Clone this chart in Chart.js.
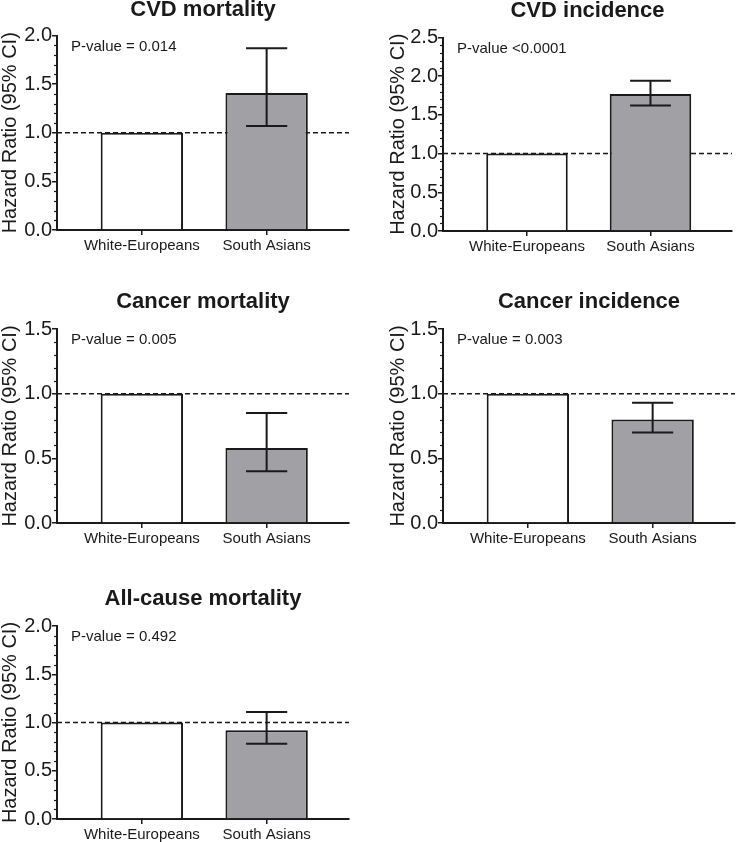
<!DOCTYPE html>
<html><head><meta charset="utf-8">
<script src="https://cdn.jsdelivr.net/npm/chart.js@4.4.1/dist/chart.umd.min.js"></script>
<style>
html,body{margin:0;padding:0;background:#fff;}
#wrap{position:relative;width:736px;height:842px;overflow:hidden;}
canvas{position:absolute;}
</style></head><body>
<div id="wrap">
<canvas id="c0"></canvas><canvas id="c1"></canvas><canvas id="c2"></canvas><canvas id="c3"></canvas><canvas id="c4"></canvas>
</div>
<script>
// ---- data ----
const categories = ['White-Europeans', 'South Asians'];
const panelTitles = ['CVD mortality', 'CVD incidence', 'Cancer mortality', 'Cancer incidence', 'All-cause mortality'];
const pValueLabels = ['P-value = 0.014', 'P-value <0.0001', 'P-value = 0.005', 'P-value = 0.003', 'P-value = 0.492'];
const hazardRatios = [[1.00, 1.41], [1.00, 1.77], [1.00, 0.58], [1.00, 0.80], [1.00, 0.92]];
const ciLower = [[null, 1.07], [null, 1.62], [null, 0.40], [null, 0.70], [null, 0.78]];
const ciUpper = [[null, 1.87], [null, 1.94], [null, 0.85], [null, 0.93], [null, 1.11]];
const yAxisMax = [2.0, 2.5, 1.5, 1.5, 2.0];
const yTickStep = 0.5;
const yMinorStep = 0.1;
const referenceHR = 1.0;
const yAxisTitle = 'Hazard Ratio (95% CI)';

// ---- layout / style ----
const FONT = '"Liberation Sans", Arial, Helvetica, sans-serif';
const INK = '#1a1a1a';
const barColors = ['#ffffff', '#a1a0a5'];
const panels = [
  {canvas: [0, 0, 360, 265],   area: [57, 35.5, 349, 230], titleY: 10,  yTitleX: 10},
  {canvas: [376, 0, 360, 265], area: [443, 37.5, 732, 231], titleY: 11, yTitleX: 22},
  {canvas: [0, 280, 360, 272], area: [57, 329, 349, 523],  titleY: 302, yTitleX: 10},
  {canvas: [376, 280, 360, 272], area: [443, 329, 735, 523], titleY: 302, yTitleX: 22},
  {canvas: [0, 560, 360, 282], area: [57, 626, 349, 819],  titleY: 599, yTitleX: 10}
];

const refLinePlugin = {
  id: 'refLine',
  beforeDatasetsDraw(chart) {
    const {ctx, chartArea: a, scales: {y}} = chart;
    const py = y.getPixelForValue(referenceHR);
    ctx.save();
    ctx.strokeStyle = INK; ctx.lineWidth = 1.5; ctx.setLineDash([5, 3]);
    ctx.beginPath(); ctx.moveTo(a.left, py); ctx.lineTo(a.right, py); ctx.stroke();
    ctx.restore();
  }
};

const minorTickPlugin = {
  id: 'minorTicks',
  afterDraw(chart) {
    const {ctx, scales: {y}} = chart;
    const n = Math.round((y.max - y.min) / yMinorStep);
    const per = Math.round(yTickStep / yMinorStep);
    ctx.save();
    ctx.strokeStyle = INK; ctx.lineWidth = 1.2;
    for (let i = 1; i < n; i++) {
      if (i % per === 0) continue;
      const py = Math.round(y.getPixelForValue(y.min + i * yMinorStep)) + 0.5;
      ctx.beginPath(); ctx.moveTo(y.right - 3, py); ctx.lineTo(y.right, py); ctx.stroke();
    }
    ctx.restore();
  }
};

const errorBarPlugin = {
  id: 'errorBars',
  afterDatasetsDraw(chart, args, opts) {
    const {ctx, scales: {y}} = chart;
    const meta = chart.getDatasetMeta(0);
    ctx.save();
    ctx.strokeStyle = INK; ctx.lineWidth = 2;
    meta.data.forEach((bar, j) => {
      const lo = opts.lower[j], hi = opts.upper[j];
      if (lo == null || hi == null) return;
      const yl = y.getPixelForValue(lo), yh = y.getPixelForValue(hi);
      const half = bar.width * 0.25;
      ctx.beginPath();
      ctx.moveTo(bar.x, yl); ctx.lineTo(bar.x, yh);
      ctx.moveTo(bar.x - half, yl); ctx.lineTo(bar.x + half, yl);
      ctx.moveTo(bar.x - half, yh); ctx.lineTo(bar.x + half, yh);
      ctx.stroke();
    });
    ctx.restore();
  }
};

const pValuePlugin = {
  id: 'pValue',
  afterDraw(chart, args, opts) {
    const {ctx, chartArea: a} = chart;
    ctx.save();
    ctx.fillStyle = INK; ctx.font = '15px ' + FONT;
    ctx.textAlign = 'left'; ctx.textBaseline = 'middle';
    ctx.fillText(opts.text, a.left + 14, a.top + 11);
    ctx.restore();
  }
};

panels.forEach((p, i) => {
  const [cl, ct, cw, ch] = p.canvas;
  const [al, at, ar, ab] = p.area;
  const cv = document.getElementById('c' + i);
  cv.width = cw; cv.height = ch;
  cv.style.left = cl + 'px'; cv.style.top = ct + 'px';
  cv.style.width = cw + 'px'; cv.style.height = ch + 'px';
  const titleLH = 22;
  const tPadTop = p.titleY - ct - titleLH / 2;
  const tPadBottom = (at - ct) - tPadTop - titleLH;

  new Chart(cv, {
    type: 'bar',
    data: {
      datasets: [{
        data: hazardRatios[i].map((v, j) => ({x: j + 1, y: v})),
        backgroundColor: barColors,
        borderColor: INK,
        borderWidth: 2,
        borderSkipped: 'bottom',
        categoryPercentage: 1,
        barPercentage: 0.66
      }]
    },
    options: {
      responsive: false,
      animation: false,
      devicePixelRatio: 1,
      layout: {padding: {left: 0, top: 0, right: (cl + cw) - ar, bottom: 0}},
      plugins: {
        legend: {display: false},
        tooltip: {enabled: false},
        title: {
          display: true, text: panelTitles[i], fullSize: false, color: INK,
          font: {family: FONT, size: 22, weight: 'bold', lineHeight: 1},
          padding: {top: tPadTop, bottom: tPadBottom}
        },
        errorBars: {lower: ciLower[i], upper: ciUpper[i]},
        pValue: {text: pValueLabels[i]}
      },
      scales: {
        x: {
          type: 'linear', min: 0.32, max: 2.66, offset: false,
          afterBuildTicks: s => { s.ticks = categories.map((c, j) => ({value: j + 1})); },
          afterFit: s => { s.height = (ct + ch) - ab; },
          ticks: {
            callback: v => categories[Math.round(v) - 1],
            color: INK, font: {family: FONT, size: 15}, padding: 2, maxRotation: 0, autoSkip: false
          },
          grid: {display: true, drawOnChartArea: false, drawTicks: true, tickLength: 5, color: INK, lineWidth: 1.5, offset: false},
          border: {display: true, color: INK, width: 2}
        },
        y: {
          min: 0, max: yAxisMax[i],
          afterFit: s => { s.width = al - cl; },
          ticks: {
            stepSize: yTickStep,
            callback: v => Number(v).toFixed(1),
            color: INK, font: {family: FONT, size: 20}, padding: 0
          },
          grid: {display: true, drawOnChartArea: false, drawTicks: true, tickLength: 5, color: INK, lineWidth: 1.5},
          border: {display: true, color: INK, width: 2},
          title: {
            display: true, text: yAxisTitle, color: INK,
            font: {family: FONT, size: 20, lineHeight: 1},
            padding: {top: p.yTitleX - 10, bottom: 0}
          }
        }
      }
    },
    plugins: [refLinePlugin, minorTickPlugin, errorBarPlugin, pValuePlugin]
  });
});
</script>
</body></html>
